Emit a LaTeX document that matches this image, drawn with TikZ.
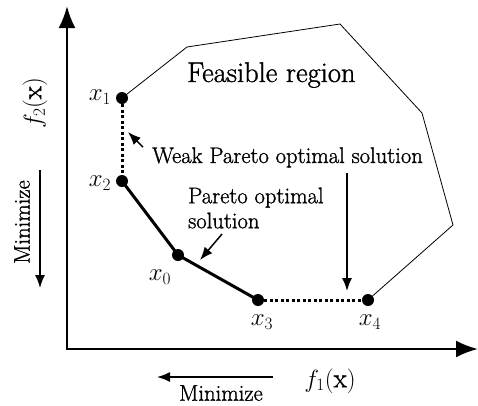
\documentclass[tikz,border=0pt]{standalone}
\usepackage{amsmath}
\usepackage{fontspec}
\newfontfamily\heavyrm{Latin Modern Roman}[FakeBold=1.2]
\usepackage{tikz}
\usetikzlibrary{arrows.meta,positioning}

\begin{document}
\begin{tikzpicture}[x=1pt,y=-1pt,
  sol/.style={circle,fill=black,inner sep=0pt,minimum size=12pt},
  txt/.style={font=\heavyrm\fontsize{22.6}{25}\selectfont,inner sep=0pt},
  sollbl/.style={font=\fontsize{27}{28}\selectfont,inner sep=0pt},
  axis/.style={line width=2.5pt,{Latex[length=22pt,width=17pt]}-{Latex[length=22pt,width=17pt]}},
  note/.style={line width=1.5pt,-{Latex[length=13pt,width=10pt]}},
  weak/.style={line width=3pt,dash pattern=on 3pt off 2.5pt},
  front/.style={line width=3pt}]
\useasboundingbox (0,0) rectangle (478,405);
% axes
\coordinate (ytip) at (67,6);
\coordinate (orig) at (67,349);
\coordinate (xtip) at (478,349);
\draw[axis] (ytip) -- (orig) -- (xtip);
\node[txt,font=\heavyrm\fontsize{27}{28}\selectfont,rotate=90] (f2) at (35,103) {$f_2(\text{x})$};
\node[txt,font=\heavyrm\fontsize{27}{28}\selectfont] (f1) at (330,381) {$f_1(\text{x})$};
% minimize hints
\node[txt,rotate=90] (miny) at (22,222) {Minimize};
\coordinate (minytail) at (40,170);
\coordinate (minytip) at (40,288);
\draw[note] (minytail) -- (minytip);
\node[txt] (minx) at (221,393) {Minimize};
\coordinate (minxtail) at (273,377);
\coordinate (minxtip) at (157,377);
\draw[note] (minxtail) -- (minxtip);
% feasible region boundary
\coordinate (b1) at (187,47);
\coordinate (b2) at (340,24);
\coordinate (b3) at (422,113);
\coordinate (b4) at (453,225);
\node[sol] (x1) at (122,98) {};
\node[sol] (x2) at (122,181) {};
\node[sol] (x0) at (178,255) {};
\node[sol] (x3) at (258,300) {};
\node[sol] (x4) at (368,300) {};
\draw[line width=0.8pt] (x1.center) -- (b1) -- (b2) -- (b3) -- (b4) -- (x4.center);
\node[txt,font=\heavyrm\fontsize{28.5}{30}\selectfont,anchor=base west] (feas) at (187,82) {Feasible region};
% pareto front
\draw[weak] (x1) -- (x2);
\draw[front] (x2.center) -- (x0.center) -- (x3.center);
\draw[weak] (x3) -- (x4);
\node[sollbl] (lx1) at (100,97) {$x_1$};
\node[sollbl] (lx2) at (100,183) {$x_2$};
\node[sollbl] (lx0) at (160,277) {$x_0$};
\node[sollbl] (lx3) at (262,322) {$x_3$};
\node[sollbl] (lx4) at (370,322) {$x_4$};
% annotations
\node[txt,anchor=base west] (weaktxt) at (152,163) {Weak Pareto optimal solution};
\node[txt,anchor=west,align=left] (partxt) at (188,208) {Pareto optimal\\solution};
\coordinate (wtip) at (128,132);
\draw[note] ([xshift=-9pt]weaktxt.north west) -- (wtip);
\coordinate (vtail) at (347,173);
\coordinate (vtip) at (347,291);
\draw[note] (vtail) -- (vtip);
\coordinate (ptail) at (222,234);
\coordinate (ptip) at (200,260);
\draw[note] (ptail) -- (ptip);
\end{tikzpicture}
\end{document}
